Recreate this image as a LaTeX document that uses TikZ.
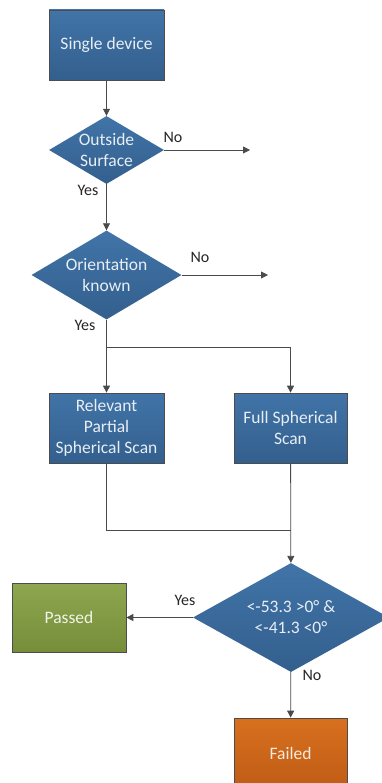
\documentclass[tikz,border=0pt]{standalone}
\usepackage{fontspec}
\setmainfont{Carlito}
\usetikzlibrary{shapes.geometric,arrows.meta}
\definecolor{blueTop}{HTML}{4174A8}
\definecolor{blueBot}{HTML}{335F8D}
\definecolor{greenTop}{HTML}{8EA64E}
\definecolor{greenBot}{HTML}{768E3A}
\definecolor{orangeTop}{HTML}{D8701E}
\definecolor{orangeBot}{HTML}{BF5C16}
\definecolor{lineGrey}{HTML}{4A4A4A}
\tikzset{
  boxtext/.style={font=\fontsize{17.5}{21}\selectfont, align=center},
  procbox/.style={rectangle, draw=black!70, line width=0.7pt, boxtext,
    top color=blueTop, bottom color=blueBot, text=white!88!blueTop,
    minimum width=115pt, minimum height=70pt, inner sep=2pt},
  decision/.style={diamond, draw=none, boxtext, inner sep=-12pt,
    top color=blueTop, bottom color=blueBot, text=white!88!blueTop},
  flow/.style={draw=lineGrey, line width=0.8pt, -{Triangle[width=7pt,length=7pt]}},
  plain/.style={draw=lineGrey, line width=0.8pt},
  lbl/.style={font=\fontsize{16}{18}\selectfont, text=black!85, inner sep=0pt}
}
\begin{document}
\begin{tikzpicture}[x=1pt,y=-1pt]
    \clip (0,0) rectangle (382,783);
    \fill[white] (0,0) rectangle (382,783);
    % process boxes and decisions
    \node[procbox] (single) at (106.5,45) {Single device};
    \node[decision, minimum width=115pt, minimum height=68pt] (outside) at (106.5,150) {Outside\\Surface};
    \node[decision, minimum width=150pt, minimum height=89pt] (orient) at (106.5,275) {Orientation\\known};
    \node[procbox] (relevant) at (106.5,428) {Relevant\\Partial\\Spherical Scan};
    \node[procbox, minimum width=113pt] (full) at (290.5,428) {Full Spherical\\Scan};
    \node[decision, minimum width=196pt, minimum height=109pt] (check) at (291,617.5) {<-53.3 >0° \&\\<-41.3 <0°};
    \node[procbox, minimum width=114pt, minimum height=69pt, top color=greenTop, bottom color=greenBot, text=white!88!greenTop] (passed) at (69,617.5) {Passed};
    \node[procbox, minimum width=113pt, top color=orangeTop, bottom color=orangeBot, text=white!85!orangeTop] (failed) at (290.5,753) {Failed};
    % free ends and joints
    \coordinate (noA) at (250,150);
    \coordinate (noB) at (268,275);
    \coordinate (split) at (106.5,347);
    \coordinate (merge) at (291,530);
    % connectors
    \draw[flow] (single) -- (outside);
    \draw[flow] (outside.east) -- (noA);
    \draw[flow] (outside) -- (orient);
    \draw[flow] (orient.east) -- (noB);
    \draw[flow] (orient) -- (relevant);
    \draw[flow] (split) -| (full);
    \draw[plain] (relevant) |- (merge);
    \draw[flow] (full) -- (check);
    \draw[flow] (check.west) -- (passed);
    \draw[flow] (check) -- (failed);
    % labels
    \node[lbl] (noOut) at (173,137) {No};
    \node[lbl] (yesOut) at (88,190) {Yes};
    \node[lbl] (noOri) at (200,257) {No};
    \node[lbl] (yesOri) at (85,325) {Yes};
    \node[lbl] (yesChk) at (185,600) {Yes};
    \node[lbl] (noChk) at (312,675) {No};
\end{tikzpicture}
\end{document}
